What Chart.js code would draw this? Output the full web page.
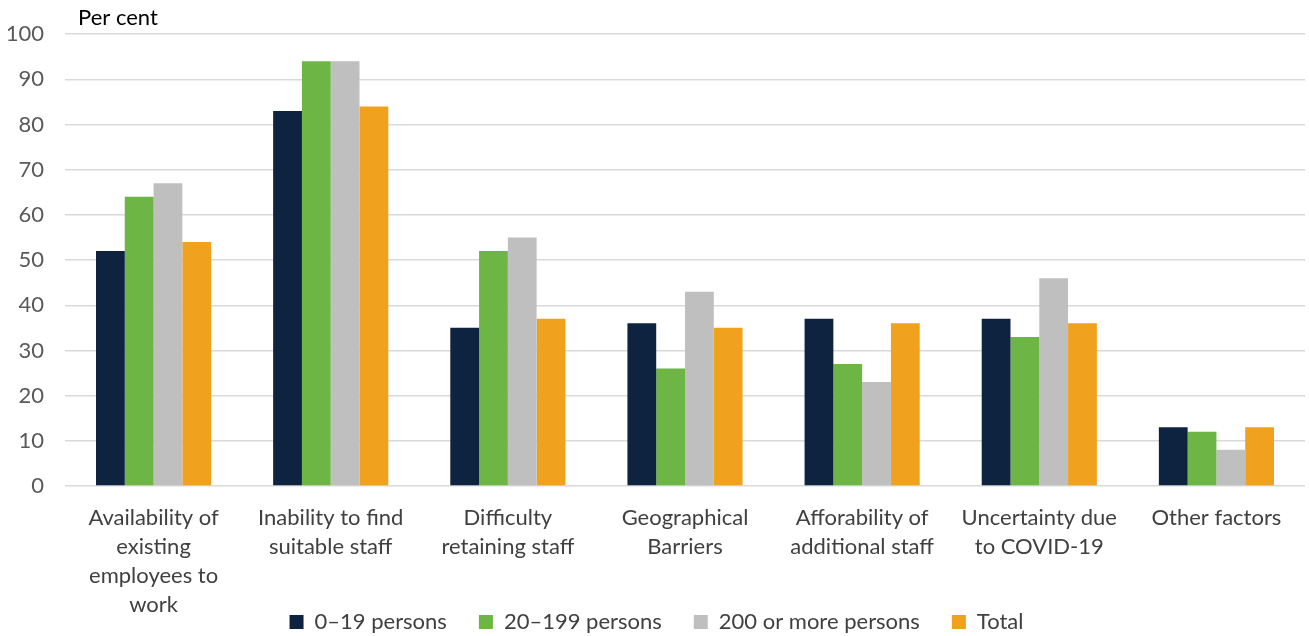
<!DOCTYPE html>
<html>
<head>
<meta charset="utf-8">
<script src="https://cdn.jsdelivr.net/npm/chart.js@4/dist/chart.umd.min.js"></script>
<style>
html,body{margin:0;padding:0;background:#fff;}
#wrap{width:1309px;height:636px;position:relative;}
</style>
</head>
<body>
<div id="wrap"><canvas id="c"></canvas></div>
<script>
const categories = [
  ["Availability of", "existing", "employees to", "work"],
  ["Inability to find", "suitable staff"],
  ["Difficulty", "retaining staff"],
  ["Geographical", "Barriers"],
  ["Afforability of", "additional staff"],
  ["Uncertainty due", "to COVID-19"],
  ["Other factors"]
];
const seriesNames = ["0\u201319 persons", "20\u2013199 persons", "200 or more persons", "Total"];
const small = [52, 83, 35, 36, 37, 37, 13];
const medium = [64, 94, 52, 26, 27, 33, 12];
const large = [67, 94, 55, 43, 23, 46, 8];
const total = [54, 84, 37, 35, 36, 36, 13];
const yTicks = [0, 10, 20, 30, 40, 50, 60, 70, 80, 90, 100];
const colors = ["#0E2340", "#6DB544", "#BFBFBF", "#F0A11D"];
const FONT = "Lato, 'Open Sans', sans-serif";
const FS = 22;
const LEG_PAD = 32;

const unitLabel = {
  id: 'unitLabel',
  afterDraw(chart) {
    const ctx = chart.ctx;
    ctx.save();
    ctx.font = FS + "px " + FONT;
    ctx.fillStyle = "#000";
    ctx.textBaseline = "middle";
    ctx.textAlign = "left";
    ctx.fillText("Per cent", chart.chartArea.left + 13, 18);
    ctx.restore();
  }
};

new Chart(document.getElementById('c'), {
  type: 'bar',
  data: {
    labels: categories,
    datasets: [small, medium, large, total].map((d, i) => ({
      label: seriesNames[i],
      data: d,
      backgroundColor: colors[i],
      borderWidth: 0,
      categoryPercentage: 0.65,
      barPercentage: 1.0
    }))
  },
  options: {
    responsive: true,
    maintainAspectRatio: false,
    animation: false,
    layout: { padding: { top: 30, right: 4, left: 8, bottom: -7 } },
    plugins: {
      legend: {
        position: 'bottom',
        labels: {
          boxWidth: 14, boxHeight: 14, padding: LEG_PAD,
          font: { size: FS, family: FONT },
          color: "#404040"
        }
      },
      tooltip: { enabled: false }
    },
    scales: {
      x: {
        grid: { display: false, drawTicks: false },
        border: { display: false },
        afterFit: (s) => {
          s.height = 642 - (FS + LEG_PAD + 10) - 485;
          s.paddingLeft = 0;
          s.paddingRight = 0;
          s._computeLabelArea = () => undefined;
        },
        ticks: {
          font: { size: FS, family: FONT, lineHeight: 29 / FS },
          color: "#404040",
          padding: 17,
          maxRotation: 0,
          autoSkip: false
        }
      },
      y: {
        min: 0, max: 100,
        afterBuildTicks: (ax) => { ax.ticks = yTicks.map(v => ({ value: v })); },
        afterFit: (s) => { s.width = 57; },
        grid: { color: "#D9D9D9", lineWidth: 1.5, drawTicks: false },
        border: { display: false },
        ticks: {
          font: { size: FS, family: FONT },
          color: "#595959",
          padding: 21
        }
      }
    }
  },
  plugins: [unitLabel]
});
</script>
</body>
</html>
